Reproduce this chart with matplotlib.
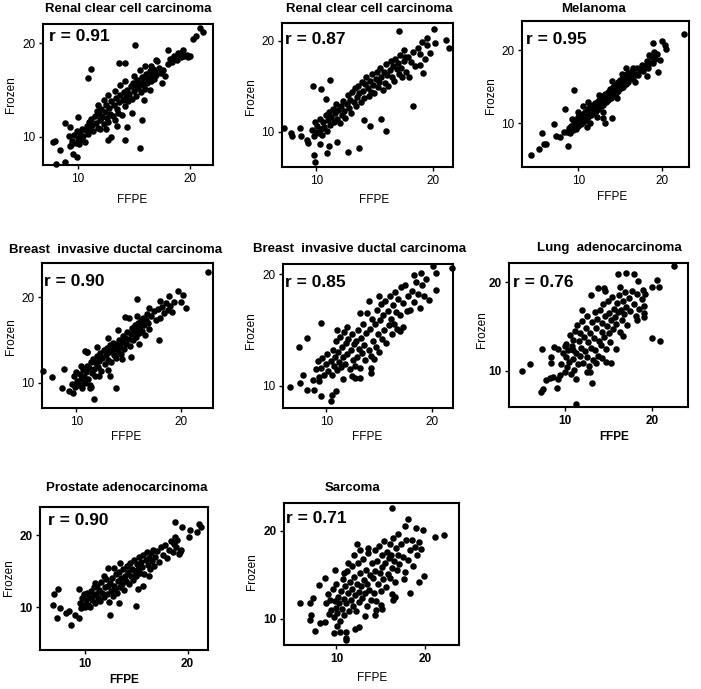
import matplotlib.pyplot as plt
import numpy as np

plt.rcParams['font.family'] = ['Liberation Sans', 'DejaVu Sans']

# titles and correlation labels of the 8 panels
titles = ['Renal clear cell carcinoma', 'Renal clear cell carcinoma', 'Melanoma',
          'Breast  invasive ductal carcinoma', 'Breast  invasive ductal carcinoma',
          'Lung  adenocarcinoma', 'Prostate adenocarcinoma', 'Sarcoma']
r_labels = ['r = 0.91', 'r = 0.87', 'r = 0.95', 'r = 0.90', 'r = 0.85',
            'r = 0.76', 'r = 0.90', 'r = 0.71']

# (FFPE, Frozen) pairs
renal_a = [(7.8, 9.5), (8.0, 9.6), (8.1, 7.1), (8.9, 7.3), (8.4, 8.6), (8.9, 11.5), (9.3, 11.1),
           (9.2, 10.1), (10.0, 12.1), (9.4, 9.1), (9.6, 8.2), (9.9, 7.9), (10.9, 16.3), (11.2, 17.3),
           (13.0, 10.0), (12.7, 9.7), (14.2, 9.7), (13.7, 17.9), (14.2, 17.9), (15.1, 19.8),
           (15.5, 8.8), (15.7, 11.8), (14.4, 11.1), (17.1, 18.1), (20.5, 20.8), (20.9, 21.6),
           (21.2, 21.2), (20.3, 20.5), (18.0, 19.3),
           (9.3, 9.0), (9.5, 9.6), (9.7, 10.2), (9.8, 9.4), (9.9, 10.6), (10.0, 9.9), (10.1, 9.2),
           (10.2, 10.4), (10.3, 9.7), (10.4, 10.9), (10.5, 10.1), (10.6, 9.5), (10.7, 10.7),
           (10.8, 11.2), (10.9, 10.3), (11.0, 11.6), (11.1, 10.9), (11.2, 11.9), (11.3, 11.3),
           (11.4, 10.6), (11.5, 12.2), (11.6, 11.5), (11.7, 12.8), (11.8, 11.0), (11.9, 12.4),
           (12.0, 11.8), (12.1, 13.0), (12.2, 12.1), (12.3, 11.4), (12.4, 12.7), (12.5, 13.4),
           (12.6, 12.0), (12.7, 11.6), (12.8, 13.1), (12.9, 12.5), (13.0, 13.8), (13.1, 12.2),
           (13.2, 13.4), (13.3, 11.8), (13.4, 14.2), (13.5, 13.0), (13.6, 12.6), (13.7, 13.7),
           (13.8, 14.5), (13.9, 12.3), (14.0, 13.9), (14.1, 14.8), (14.2, 13.3), (14.3, 14.3),
           (14.4, 15.0), (14.5, 13.8), (14.6, 14.6), (14.7, 15.4), (14.8, 14.1), (14.9, 15.8),
           (15.0, 14.9), (15.1, 15.5), (15.2, 14.4), (15.3, 16.1), (15.4, 15.2), (15.5, 15.8),
           (15.6, 14.8), (15.7, 16.4), (15.8, 15.5), (15.9, 16.0), (16.0, 15.1), (16.1, 16.7),
           (16.2, 15.8), (16.3, 16.3), (16.4, 17.0), (16.5, 16.0), (16.6, 16.6), (16.7, 17.3),
           (16.8, 16.2), (16.9, 17.0), (17.0, 16.6), (17.2, 17.4), (17.4, 16.8), (17.6, 17.2),
           (17.8, 16.5), (18.0, 17.8), (18.2, 18.3), (18.4, 18.0), (18.6, 18.6), (18.8, 18.2),
           (19.0, 18.9), (19.2, 18.5), (19.3, 19.1), (19.5, 18.7), (19.7, 18.8), (19.4, 19.3),
           (18.9, 19.0), (18.5, 18.4), (19.8, 18.5), (20.0, 18.7), (11.8, 13.4), (12.3, 14.0),
           (12.7, 14.5), (13.3, 14.9), (13.8, 15.5), (14.2, 16.0), (15.0, 16.5), (15.5, 17.2),
           (16.0, 17.6), (16.5, 17.6), (17.0, 18.2), (12.0, 10.8), (12.5, 10.9), (13.5, 11.2),
           (14.8, 12.6), (15.9, 13.9), (16.4, 15.0), (17.5, 15.8)]

renal_b = [(7.2, 10.4), (7.8, 9.8), (7.9, 9.5), (8.6, 10.4), (8.7, 9.5), (9.2, 9.1), (9.3, 8.7),
           (9.8, 7.4), (9.9, 6.6), (9.7, 15.0), (10.4, 14.7), (11.2, 15.7), (10.8, 13.6),
           (10.3, 8.6), (10.9, 7.6), (11.1, 8.4), (11.8, 8.9), (12.7, 7.8), (13.7, 8.2),
           (14.1, 11.3), (14.6, 10.6), (15.6, 11.4), (16.0, 10.1), (17.1, 21.1), (18.3, 12.8),
           (20.1, 21.3), (19.5, 20.3), (21.1, 20.1), (21.4, 19.2), (20.2, 19.7), (19.8, 18.6),
           (19.2, 16.4), (18.9, 17.3), (17.5, 19.0), (17.6, 18.2),
           (9.6, 10.2), (9.8, 9.5), (9.9, 11.0), (10.0, 10.0), (10.1, 10.6), (10.2, 9.8),
           (10.3, 11.4), (10.4, 10.3), (10.5, 9.6), (10.6, 11.0), (10.7, 10.5), (10.8, 11.8),
           (10.9, 10.1), (11.0, 11.3), (11.1, 12.2), (11.2, 10.7), (11.3, 11.6), (11.4, 12.5),
           (11.5, 11.0), (11.6, 12.0), (11.7, 13.0), (11.8, 11.4), (11.9, 12.4), (12.0, 10.9),
           (12.1, 12.8), (12.2, 11.8), (12.3, 13.4), (12.4, 12.3), (12.5, 11.5), (12.6, 13.0),
           (12.7, 14.0), (12.8, 12.6), (12.9, 13.5), (13.0, 12.0), (13.1, 14.3), (13.2, 13.2),
           (13.3, 14.8), (13.4, 12.8), (13.5, 13.8), (13.6, 15.0), (13.7, 14.2), (13.8, 13.3),
           (13.9, 15.5), (14.0, 14.5), (14.1, 13.7), (14.2, 15.2), (14.3, 16.0), (14.4, 14.8),
           (14.5, 13.9), (14.6, 15.6), (14.7, 14.4), (14.8, 16.3), (14.9, 15.1), (15.0, 14.2),
           (15.1, 15.8), (15.2, 16.6), (15.3, 14.9), (15.4, 15.4), (15.5, 17.0), (15.6, 16.0),
           (15.7, 14.6), (15.8, 16.5), (15.9, 15.3), (16.0, 17.4), (16.1, 16.2), (16.2, 15.0),
           (16.3, 16.8), (16.4, 17.8), (16.5, 16.0), (16.6, 17.2), (16.7, 15.6), (16.8, 18.0),
           (16.9, 16.9), (17.0, 17.5), (17.1, 16.3), (17.2, 18.4), (17.3, 17.0), (17.5, 17.8),
           (17.7, 16.5), (17.9, 18.2), (18.1, 17.6), (18.3, 18.8), (18.5, 17.2), (18.7, 19.2),
           (18.9, 18.5), (19.1, 19.8), (19.3, 18.0), (19.5, 19.5), (18.0, 16.0), (17.4, 16.0)]

melanoma = [(4.3, 5.7), (5.2, 6.4), (5.6, 8.7), (5.8, 7.1), (6.1, 7.2), (7.0, 9.9), (7.3, 8.3),
            (7.8, 8.1), (8.2, 8.8), (8.7, 6.9), (8.4, 12.0), (9.4, 14.5), (13.0, 10.7),
            (14.0, 10.7), (13.2, 10.0), (19.0, 21.0), (20.0, 21.2), (20.4, 20.7), (20.5, 20.1),
            (22.7, 22.2), (19.6, 17.0), (18.2, 16.4), (19.8, 18.6),
            (8.6, 8.8), (8.8, 9.3), (9.0, 8.6), (9.1, 9.6), (9.3, 9.1), (9.4, 10.1), (9.5, 9.5),
            (9.6, 10.4), (9.7, 9.2), (9.8, 10.0), (9.9, 10.8), (10.0, 9.6), (10.1, 10.4),
            (10.2, 11.0), (10.3, 9.9), (10.4, 10.7), (10.5, 11.3), (10.6, 10.2), (10.7, 11.0),
            (10.8, 11.6), (10.9, 10.5), (11.0, 11.3), (11.1, 12.0), (11.2, 10.9), (11.3, 11.6),
            (11.4, 12.3), (11.5, 11.1), (11.6, 11.8), (11.7, 12.5), (11.8, 11.4), (11.9, 12.1),
            (12.0, 12.8), (12.1, 11.7), (12.2, 12.4), (12.3, 13.1), (12.4, 12.0), (12.5, 12.7),
            (12.6, 13.4), (12.7, 12.3), (12.8, 13.0), (12.9, 13.7), (13.0, 12.5), (13.1, 13.3),
            (13.2, 14.0), (13.3, 12.9), (13.4, 13.6), (13.5, 14.3), (13.6, 13.2), (13.7, 13.9),
            (13.8, 14.7), (13.9, 13.5), (14.0, 14.2), (14.1, 15.0), (14.2, 13.8), (14.3, 14.5),
            (14.4, 15.3), (14.5, 14.1), (14.6, 14.8), (14.7, 15.6), (14.8, 14.4), (14.9, 15.1),
            (15.0, 15.9), (15.1, 14.8), (15.2, 15.5), (15.3, 16.2), (15.4, 15.0), (15.5, 15.8),
            (15.6, 16.6), (15.7, 15.4), (15.8, 16.1), (15.9, 16.9), (16.0, 15.7), (16.2, 16.4),
            (16.4, 17.1), (16.6, 16.0), (16.8, 16.8), (17.0, 17.5), (17.2, 16.6), (17.4, 17.3),
            (17.6, 18.0), (17.8, 17.1), (18.0, 17.8), (18.2, 18.5), (18.4, 17.6), (18.6, 18.3),
            (18.8, 19.0), (19.0, 18.2), (19.2, 18.8), (19.4, 19.5), (19.1, 19.8), (18.5, 19.3),
            (16.5, 17.5), (15.2, 16.8), (15.7, 17.5), (14.0, 15.8), (10.5, 12.3), (11.2, 12.9),
            (12.5, 13.8), (11.4, 10.0), (11.0, 9.5), (12.2, 10.9), (13.0, 11.6), (14.6, 13.4),
            (16.8, 15.6), (9.2, 10.6), (10.0, 11.5)]

breast_a = [(6.8, 11.4), (7.7, 10.7), (8.6, 9.4), (8.8, 11.6), (9.3, 9.1), (9.7, 8.8), (11.7, 8.1),
            (10.8, 13.7), (11.0, 13.6), (13.8, 9.4), (13.2, 10.8), (15.8, 19.8), (14.7, 17.7),
            (17.9, 15.0), (22.6, 23.0), (19.7, 20.7), (20.2, 20.3), (20.5, 18.7), (20.0, 19.5),
            (18.9, 20.2), (11.3, 9.4), (10.4, 9.7),
            (9.6, 9.9), (9.8, 10.8), (9.9, 9.5), (10.0, 11.3), (10.1, 10.2), (10.2, 9.7),
            (10.3, 11.0), (10.4, 10.4), (10.5, 9.4), (10.6, 11.6), (10.7, 10.7), (10.8, 10.0),
            (10.9, 11.3), (11.0, 12.0), (11.1, 10.5), (11.2, 11.7), (11.3, 9.8), (11.4, 12.4),
            (11.5, 11.1), (11.6, 12.8), (11.7, 11.6), (11.8, 10.8), (11.9, 12.3), (12.0, 13.1),
            (12.1, 11.9), (12.2, 12.6), (12.3, 13.5), (12.4, 11.4), (12.5, 12.9), (12.6, 13.8),
            (12.7, 12.2), (12.8, 13.3), (12.9, 14.1), (13.0, 12.7), (13.1, 13.6), (13.2, 14.4),
            (13.3, 12.4), (13.4, 13.9), (13.5, 14.7), (13.6, 13.2), (13.7, 14.1), (13.8, 12.9),
            (13.9, 14.5), (14.0, 13.6), (14.1, 15.0), (14.2, 14.2), (14.3, 13.4), (14.4, 14.8),
            (14.5, 15.5), (14.6, 14.0), (14.7, 15.2), (14.8, 14.6), (14.9, 16.0), (15.0, 15.1),
            (15.1, 14.3), (15.2, 15.7), (15.3, 16.4), (15.4, 15.0), (15.5, 15.9), (15.6, 16.8),
            (15.7, 15.4), (15.8, 16.3), (15.9, 17.0), (16.0, 15.8), (16.1, 16.6), (16.2, 17.3),
            (16.3, 16.1), (16.4, 17.6), (16.5, 16.8), (16.6, 15.6), (16.7, 17.4), (16.8, 18.0),
            (16.9, 17.0), (17.0, 16.3), (17.2, 17.8), (17.4, 18.4), (17.6, 17.4), (17.8, 18.6),
            (18.0, 17.6), (18.2, 18.9), (18.4, 18.2), (18.6, 19.3), (18.8, 18.5), (19.0, 19.0),
            (19.2, 18.3), (19.4, 19.5), (16.0, 14.6), (15.2, 13.0), (14.4, 12.8), (13.0, 11.5),
            (12.2, 10.8), (11.0, 13.6), (12.0, 14.2), (13.0, 15.3), (14.0, 16.2), (15.0, 17.6),
            (15.8, 17.8), (17.0, 18.8), (18.0, 19.6), (10.4, 12.0), (11.4, 9.5)]

breast_b = [(6.6, 9.9), (7.5, 10.2), (7.8, 11.0), (7.4, 13.5), (8.2, 14.3), (9.5, 15.6), (8.2, 9.6),
            (8.8, 9.6), (9.5, 9.1), (10.4, 8.6), (10.5, 9.2), (10.9, 9.5), (8.7, 10.5), (9.3, 10.4),
            (12.7, 10.7), (13.2, 10.7), (14.2, 11.1), (20.1, 20.7), (21.9, 20.5), (20.4, 20.1),
            (20.4, 18.6), (19.7, 17.7), (19.0, 20.1), (18.3, 19.9), (17.3, 15.3), (17.0, 14.9),
            (17.6, 16.7),
            (9.0, 11.5), (9.2, 12.2), (9.3, 10.8), (9.5, 11.6), (9.6, 12.5), (9.8, 11.0),
            (10.0, 11.9), (10.1, 12.8), (10.2, 11.3), (10.4, 12.2), (10.5, 11.0), (10.6, 13.2),
            (10.7, 11.8), (10.8, 12.6), (10.9, 14.0), (11.0, 11.4), (11.1, 13.0), (11.2, 12.1),
            (11.3, 14.4), (11.4, 11.7), (11.5, 13.5), (11.6, 12.6), (11.7, 14.8), (11.8, 11.9),
            (11.9, 13.8), (12.0, 12.8), (12.1, 14.2), (12.2, 11.5), (12.3, 13.2), (12.4, 14.6),
            (12.5, 12.3), (12.6, 13.7), (12.7, 11.8), (12.8, 14.0), (12.9, 12.6), (13.0, 15.0),
            (13.1, 13.3), (13.2, 11.6), (13.3, 14.3), (13.4, 12.9), (13.5, 15.5), (13.6, 13.6),
            (13.7, 12.3), (13.8, 14.7), (13.9, 16.5), (14.0, 13.2), (14.1, 15.1), (14.2, 12.7),
            (14.3, 16.0), (14.4, 14.0), (14.5, 12.4), (14.6, 15.5), (14.7, 13.5), (14.8, 16.8),
            (14.9, 14.6), (15.0, 13.0), (15.1, 15.9), (15.2, 17.3), (15.3, 14.2), (15.4, 16.3),
            (15.5, 15.0), (15.6, 17.6), (15.7, 13.8), (15.8, 16.7), (15.9, 15.4), (16.0, 18.0),
            (16.1, 16.0), (16.2, 14.6), (16.3, 17.2), (16.4, 15.5), (16.5, 18.4), (16.6, 16.6),
            (16.7, 15.1), (16.8, 17.8), (17.0, 16.3), (17.1, 18.8), (17.3, 17.4), (17.5, 19.0),
            (17.7, 18.0), (17.9, 16.8), (18.1, 18.5), (18.3, 17.5), (18.5, 19.3), (18.7, 18.2),
            (18.9, 17.0), (19.1, 19.0), (19.3, 18.0), (19.4, 19.6), (12.0, 15.3), (11.0, 15.0),
            (13.2, 16.5), (14.0, 17.6), (15.0, 18.0), (14.2, 11.6), (12.4, 10.9), (11.6, 10.6)]

lung = [(5.1, 10.0), (6.0, 10.8), (7.3, 7.6), (7.5, 7.9), (7.4, 12.5), (7.9, 8.9), (8.3, 9.2),
        (8.7, 9.3), (9.1, 8.0), (9.2, 9.1), (8.4, 11.5), (8.4, 10.9), (8.8, 12.7), (9.2, 12.5),
        (11.3, 6.2), (11.3, 9.1), (13.1, 8.6), (12.5, 9.9), (14.7, 11.0), (15.3, 10.9),
        (16.1, 20.9), (17.0, 21.0), (17.9, 20.9), (13.8, 19.3), (14.5, 19.3), (16.3, 19.4),
        (20.0, 13.7), (20.9, 13.4), (22.5, 21.8), (20.5, 20.2), (20.7, 19.4), (20.0, 19.4),
        (19.1, 16.5), (19.1, 17.3), (18.2, 15.7), (18.4, 20.1), (18.9, 19.1),
        (9.6, 10.8), (9.8, 12.0), (10.0, 9.8), (10.1, 11.5), (10.2, 13.0), (10.3, 10.4),
        (10.4, 12.3), (10.5, 11.0), (10.6, 14.0), (10.7, 9.6), (10.8, 12.8), (10.9, 11.3),
        (11.0, 13.5), (11.1, 10.1), (11.2, 14.5), (11.3, 12.0), (11.4, 15.2), (11.5, 10.7),
        (11.6, 13.3), (11.7, 11.7), (11.8, 14.2), (11.9, 12.6), (12.0, 15.6), (12.1, 10.9),
        (12.2, 13.8), (12.3, 12.2), (12.4, 14.8), (12.5, 11.5), (12.6, 16.2), (12.7, 13.2),
        (12.8, 10.5), (12.9, 14.3), (13.0, 12.6), (13.1, 15.5), (13.2, 11.2), (13.3, 13.7),
        (13.4, 16.6), (13.5, 12.3), (13.6, 14.8), (13.7, 15.8), (13.8, 11.6), (13.9, 13.4),
        (14.0, 16.9), (14.1, 12.9), (14.2, 14.4), (14.3, 15.4), (14.4, 17.5), (14.5, 13.8),
        (14.6, 16.2), (14.7, 12.4), (14.8, 15.0), (14.9, 17.9), (15.0, 14.2), (15.1, 16.5),
        (15.2, 13.2), (15.3, 15.7), (15.4, 18.3), (15.5, 14.7), (15.6, 17.0), (15.7, 16.1),
        (15.8, 12.4), (15.9, 15.3), (16.0, 17.6), (16.1, 16.6), (16.2, 18.5), (16.3, 14.4),
        (16.4, 16.9), (16.5, 15.7), (16.6, 17.9), (16.7, 13.9), (16.8, 16.4), (16.9, 18.9),
        (17.0, 17.2), (17.1, 15.2), (17.3, 18.2), (17.5, 16.7), (17.7, 19.0), (17.9, 17.5),
        (18.1, 16.2), (18.3, 18.6), (18.5, 17.0), (18.8, 18.1), (19.0, 16.1), (19.2, 18.6),
        (13.0, 18.5), (12.0, 16.9), (14.6, 19.0), (11.0, 12.3), (10.0, 12.8), (9.5, 9.5),
        (12.9, 9.8), (13.6, 10.9), (14.3, 11.4)]

prostate = [(6.9, 10.3), (7.0, 11.8), (7.4, 12.5), (7.3, 8.5), (7.6, 9.9), (8.1, 9.2), (8.4, 9.5),
            (8.6, 7.6), (9.0, 8.9), (9.4, 8.5), (9.4, 12.6), (12.2, 15.5), (12.4, 8.9),
            (13.3, 10.6), (15.0, 10.2), (15.7, 12.9), (18.8, 21.8), (19.5, 21.2), (20.2, 20.7),
            (20.1, 19.7), (21.1, 21.5), (21.3, 21.2), (20.9, 20.5), (19.4, 17.9), (19.3, 17.7),
            (9.5, 10.6), (9.6, 9.9), (9.7, 11.3), (9.8, 10.3), (9.9, 11.8), (10.0, 10.0),
            (10.1, 11.0), (10.2, 12.0), (10.3, 10.4), (10.4, 11.4), (10.5, 10.1), (10.6, 12.3),
            (10.7, 11.0), (10.8, 11.7), (10.9, 12.8), (11.0, 10.6), (11.1, 11.9), (11.2, 13.1),
            (11.3, 11.3), (11.4, 12.4), (11.5, 10.9), (11.6, 13.5), (11.7, 12.0), (11.8, 11.5),
            (11.9, 12.8), (12.0, 13.9), (12.1, 11.8), (12.2, 12.9), (12.3, 10.8), (12.4, 13.4),
            (12.5, 12.3), (12.6, 14.1), (12.7, 11.6), (12.8, 13.0), (12.9, 12.5), (13.0, 14.6),
            (13.1, 12.0), (13.2, 13.6), (13.3, 14.9), (13.4, 12.8), (13.5, 14.1), (13.6, 13.3),
            (13.7, 15.3), (13.8, 12.4), (13.9, 14.4), (14.0, 13.7), (14.1, 15.8), (14.2, 14.9),
            (14.3, 13.3), (14.4, 16.2), (14.5, 14.4), (14.6, 15.3), (14.7, 13.8), (14.8, 16.6),
            (14.9, 15.0), (15.0, 14.3), (15.1, 16.0), (15.2, 15.3), (15.3, 17.0), (15.4, 14.8),
            (15.5, 16.3), (15.6, 15.6), (15.7, 17.3), (15.8, 14.6), (15.9, 16.6), (16.0, 17.7),
            (16.1, 15.9), (16.2, 16.9), (16.3, 15.3), (16.4, 17.5), (16.5, 16.4), (16.6, 18.0),
            (16.7, 15.8), (16.8, 17.0), (17.0, 17.8), (17.2, 16.3), (17.4, 18.3), (17.6, 17.2),
            (17.8, 18.6), (18.0, 16.9), (18.2, 18.0), (18.4, 19.2), (18.6, 17.7), (18.7, 18.8),
            (18.8, 19.7), (18.9, 18.3), (19.0, 19.3), (19.2, 17.4), (15.2, 12.6), (16.2, 14.3),
            (11.0, 13.4), (11.8, 14.3), (12.8, 15.4), (13.4, 16.1)]

sarcoma = [(5.9, 11.8), (7.0, 11.8), (7.3, 12.4), (7.0, 9.9), (7.1, 10.4), (7.6, 8.6), (8.1, 9.6),
           (8.7, 9.7), (8.0, 13.8), (8.7, 14.6), (9.7, 8.4), (10.1, 9.2), (10.4, 8.5), (11.1, 8.5),
           (11.1, 7.8), (11.1, 7.6), (9.8, 15.6), (10.8, 15.2), (12.1, 8.9), (12.6, 9.1),
           (13.2, 10.3), (12.3, 18.5), (14.3, 10.5), (15.1, 11.1), (14.5, 11.0), (16.3, 22.6),
           (18.1, 21.3), (17.7, 20.5), (19.0, 20.3), (19.8, 20.1), (21.1, 19.3), (22.2, 19.5),
           (19.9, 14.9), (19.3, 14.2), (18.3, 13.0), (16.4, 12.2), (16.6, 12.5),
           (8.8, 11.8), (9.0, 12.8), (9.1, 10.6), (9.3, 12.2), (9.4, 11.0), (9.6, 13.4),
           (9.7, 10.2), (9.8, 12.0), (9.9, 11.3), (10.0, 14.0), (10.1, 10.7), (10.2, 12.5),
           (10.3, 11.8), (10.4, 9.8), (10.5, 13.2), (10.6, 11.1), (10.7, 14.5), (10.8, 12.3),
           (10.9, 10.5), (11.0, 13.7), (11.1, 11.8), (11.2, 15.4), (11.3, 12.9), (11.4, 10.9),
           (11.5, 14.2), (11.6, 12.2), (11.7, 16.0), (11.8, 13.4), (11.9, 11.5), (12.0, 14.8),
           (12.1, 12.7), (12.2, 10.9), (12.3, 14.0), (12.4, 16.4), (12.5, 13.1), (12.6, 11.9),
           (12.7, 15.2), (12.8, 13.7), (12.9, 12.4), (13.0, 16.8), (13.1, 14.4), (13.2, 12.9),
           (13.3, 15.6), (13.4, 11.5), (13.5, 14.0), (13.6, 17.5), (13.7, 13.3), (13.8, 15.0),
           (13.9, 12.2), (14.0, 16.3), (14.1, 14.6), (14.2, 13.0), (14.3, 17.8), (14.4, 15.4),
           (14.5, 12.0), (14.6, 16.6), (14.7, 14.0), (14.8, 18.3), (14.9, 15.2), (15.0, 13.2),
           (15.1, 17.2), (15.2, 15.9), (15.3, 14.5), (15.4, 18.8), (15.5, 16.4), (15.6, 13.6),
           (15.7, 17.6), (15.8, 15.1), (15.9, 16.9), (16.0, 18.5), (16.1, 14.6), (16.2, 17.3),
           (16.3, 15.8), (16.4, 19.2), (16.5, 16.6), (16.6, 14.2), (16.7, 18.1), (16.8, 15.6),
           (16.9, 17.2), (17.0, 19.6), (17.1, 16.2), (17.3, 18.5), (17.5, 17.0), (17.7, 15.3),
           (17.9, 18.9), (18.1, 16.7), (18.3, 17.8), (18.5, 19.0), (18.7, 16.0), (18.9, 18.2),
           (19.1, 17.3), (19.3, 18.7), (19.5, 17.9), (12.0, 17.2), (11.3, 16.3), (12.7, 17.8),
           (13.6, 18.0), (15.0, 11.6), (16.3, 12.8), (17.6, 14.5)]

panels = [renal_a, renal_b, melanoma, breast_a, breast_b, lung, prostate, sarcoma]

# layout in pixels of the 701x689 picture: axes box (left, top, right, bottom)
W, H = 701, 689
boxes = [(43, 24, 213, 165), (282, 23, 453, 167), (522, 21, 689, 167),
         (42, 263, 213, 408), (283, 264, 453, 408), (509, 263, 688, 407),
         (40, 507, 208, 650), (284, 503, 459, 645)]
xlims = [(6.9, 22.05), (7.06, 21.74), (3.2, 23.3), (6.7, 23.1),
         (5.9, 22.0), (3.65, 24.06), (5.6, 22.0), (4.07, 23.85)]
ylims = [(7.0, 22.07), (6.1, 21.94), (4.0, 24.0), (7.07, 24.0),
         (8.0, 20.9), (5.9, 22.15), (4.1, 23.9), (7.05, 23.15)]
title_pos = [(128, 9), (369, 9), (593, 9), (116, 250), (360, 249), (609, 248), (127, 488), (353, 488)]
xlabel_pos = [(132, 200), (374, 200), (612, 197), (126, 437), (367, 437), (614, 437), (124, 680), (372, 678)]
ylabel_pos = [(11, 95), (251, 97), (491, 96), (11, 337), (251, 331), (482, 330), (9, 578), (252, 572)]
r_offset = [(6, 5), (3, 9), (4, 11), (2, 11), (2, 11), (4, 12), (8, 6), (2, 8)]
bold_ticks = [False, False, False, False, False, True, True, True]
bold_xlabel = [False, False, False, False, False, True, True, False]

fig = plt.figure(figsize=(W / 100, H / 100), dpi=100)

for i, pts in enumerate(panels):
    l, t, r, b = boxes[i]
    ax = fig.add_axes([l / W, 1 - b / H, (r - l) / W, (b - t) / H])
    data = np.array(pts)
    ax.scatter(data[:, 0], data[:, 1], s=22, color='black', linewidths=0, clip_on=False)
    ax.set_xlim(*xlims[i])
    ax.set_ylim(*ylims[i])
    ax.set_xticks([10, 20])
    ax.set_yticks([10, 20])
    ax.tick_params(direction='out', length=3, width=1, pad=2.5, labelsize=8.5,
                   top=False, right=False)
    for lab in ax.get_xticklabels() + ax.get_yticklabels():
        lab.set_fontweight('bold' if bold_ticks[i] else 'normal')
    for sp in ax.spines.values():
        sp.set_linewidth(1.5)

    fig.text(title_pos[i][0] / W, 1 - title_pos[i][1] / H, titles[i],
             ha='center', va='center', fontsize=9.5, fontweight='bold')
    fig.text(xlabel_pos[i][0] / W, 1 - xlabel_pos[i][1] / H, 'FFPE', ha='center', va='center',
             fontsize=8.5, fontweight='bold' if bold_xlabel[i] else 'normal')
    fig.text(ylabel_pos[i][0] / W, 1 - ylabel_pos[i][1] / H, 'Frozen', ha='center', va='center',
             fontsize=8.5, rotation=90)
    dx, dy = r_offset[i]
    ax.annotate(r_labels[i], xy=(0, 1), xycoords='axes fraction',
                xytext=(dx * 0.72, -dy * 0.72), textcoords='offset points',
                ha='left', va='top', fontsize=12.5, fontweight='bold')

fig.savefig('out.png', dpi=100)
